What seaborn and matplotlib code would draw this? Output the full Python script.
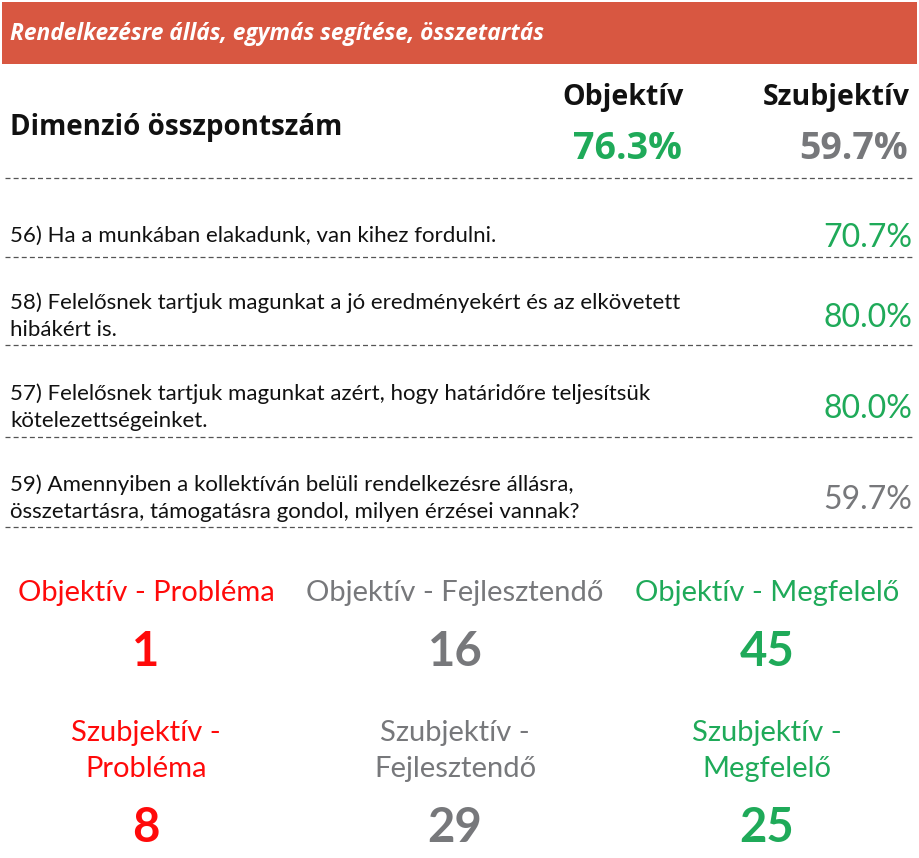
import matplotlib
matplotlib.use("Agg")
import matplotlib.pyplot as plt
import seaborn as sns

# ---- data ----
title = "Rendelkezésre állás, egymás segítése, összetartás"
dim_label = "Dimenzió összpontszám"
col_labels = ["Objektív", "Szubjektív"]
dim_scores = [76.3, 59.7]
dim_colors = ["#1FAA59", "#77787B"]

items = [
    "56) Ha a munkában elakadunk, van kihez fordulni.",
    "58) Felelősnek tartjuk magunkat a jó eredményekért és az elkövetett\nhibákért is.",
    "57) Felelősnek tartjuk magunkat azért, hogy határidőre teljesítsük\nkötelezettségeinket.",
    "59) Amennyiben a kollektíván belüli rendelkezésre állásra,\nösszetartásra, támogatásra gondol, milyen érzései vannak?",
]
item_scores = [70.7, 80.0, 80.0, 59.7]
item_colors = ["#1FAA59", "#1FAA59", "#1FAA59", "#77787B"]

cat_labels_obj = ["Objektív - Probléma", "Objektív - Fejlesztendő", "Objektív - Megfelelő"]
cat_values_obj = [1, 16, 45]
cat_labels_subj = ["Szubjektív -\nProbléma", "Szubjektív -\nFejlesztendő", "Szubjektív -\nMegfelelő"]
cat_values_subj = [8, 29, 25]
cat_colors = ["#FF0A0A", "#77787B", "#1FAA59"]

# ---- style ----
sns.set_theme(style="white")
plt.rcParams["font.family"] = ["Lato", "DejaVu Sans"]
HEAD = ["Open Sans", "DejaVu Sans"]

W, H = 919, 858
fig = plt.figure(figsize=(W / 100, H / 100), dpi=100)
ax = fig.add_axes([0, 0, 1, 1])
ax.set_xlim(0, W)
ax.set_ylim(H, 0)
ax.axis("off")

# header bar
ax.axhspan(2, 64, xmin=2 / W, xmax=917 / W, color="#D85741", lw=0)
ax.text(10, 34, title, color="white", fontsize=16.4, fontweight="bold",
        fontstyle="italic", family=HEAD, va="center", ha="left")

# dimension header
ax.text(10, 127, dim_label, fontsize=20, fontweight="bold",
        family=HEAD, va="center", ha="left", color="#111111")
ax.text(623, 97, col_labels[0], fontsize=20.5, fontweight="bold",
        family=HEAD, va="center", ha="center", color="#111111")
ax.text(910, 97, col_labels[1], fontsize=20.5, fontweight="bold",
        family=HEAD, va="center", ha="right", color="#111111")
ax.text(627, 149, f"{dim_scores[0]:.1f}%", fontsize=27, fontweight="bold",
        family=HEAD, va="center", ha="center", color=dim_colors[0])
ax.text(908, 149, f"{dim_scores[1]:.1f}%", fontsize=27, fontweight="bold",
        family=HEAD, va="center", ha="right", color=dim_colors[1])

dash_kw = dict(color="#555555", lw=0.9, linestyle=(0, (4, 2.5)))
ax.plot([5, 915], [178, 178], **dash_kw)

# items
item_y = [236, 316, 407, 498]
line_y = [257, 345, 437, 527]
for txt, val, col, y, ly in zip(items, item_scores, item_colors, item_y, line_y):
    ax.text(10, y, txt, fontsize=16, va="center", ha="left", color="#111111",
            linespacing=1.42)
    ax.text(912, y + 2, f"{val:.1f}%", fontsize=23, va="center", ha="right", color=col)
    ax.plot([5, 915], [ly, ly], **dash_kw)

# category counts
xs = [146, 455, 767]
for x, lab, val, col in zip(xs, cat_labels_obj, cat_values_obj, cat_colors):
    ax.text(x, 593, lab, fontsize=21, va="center", ha="center", color=col)
    ax.text(x, 652, str(val), fontsize=34, fontweight="bold", va="center", ha="center", color=col)
for x, lab, val, col in zip(xs, cat_labels_subj, cat_values_subj, cat_colors):
    ax.text(x, 751, lab, fontsize=21, va="center", ha="center", color=col, linespacing=1.45)
    ax.text(x, 828, str(val), fontsize=34, fontweight="bold", va="center", ha="center", color=col)

fig.savefig("out.png", dpi=100)
